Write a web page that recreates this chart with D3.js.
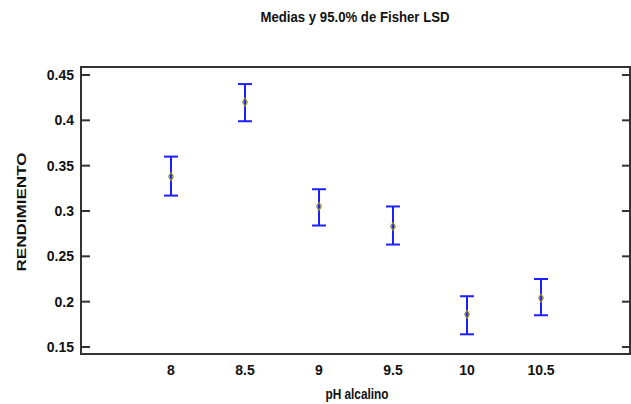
<!DOCTYPE html>
<meta charset="utf-8" />
<title>Medias y 95.0% de Fisher LSD</title>
<style>
  body { margin: 0; background: #fff; }
  text {
    font-family: "Liberation Sans Narrow", "Arial Narrow", "Liberation Sans", sans-serif;
    font-weight: bold;
    fill: #111;
  }
  .frame { fill: none; stroke: #333; stroke-width: 2px; }
  .tick line { stroke: #333; stroke-width: 2px; }
  .bar { stroke: #1e1eff; stroke-width: 2px; fill: none; }
  .mean { stroke: #85852a; stroke-width: 1.2px; fill: none; }
</style>
<body>
  <script src="https://cdnjs.cloudflare.com/ajax/libs/d3/7.8.5/d3.min.js"></script>
  <script>
    // pH levels (x) and the LSD intervals
    var phLevels = [8, 8.5, 9, 9.5, 10, 10.5];
    var means = [0.338, 0.420, 0.305, 0.283, 0.186, 0.204];
    var lower = [0.317, 0.399, 0.284, 0.263, 0.164, 0.185];
    var upper = [0.360, 0.440, 0.324, 0.305, 0.206, 0.225];
    var yTicks = [0.15, 0.2, 0.25, 0.3, 0.35, 0.4, 0.45];
    var yTickLabels = ["0.15", "0.2", "0.25", "0.3", "0.35", "0.4", "0.45"];

    var width = 631,
      height = 404,
      plotLeft = 81,
      plotRight = 630,
      plotTop = 67,
      plotBottom = 354;

    var svg = d3
      .select("body")
      .append("svg")
      .attr("width", width)
      .attr("height", height);

    var x = d3.scaleLinear().domain([8, 10.5]).range([171, 541]);
    var y = d3.scaleLinear().domain([0.15, 0.45]).range([347, 75]);

    // narrow font is not installed, so squeeze the titles to the original widths
    svg
      .append("text")
      .attr("x", 355)
      .attr("y", 22)
      .attr("text-anchor", "middle")
      .attr("textLength", 189)
      .attr("lengthAdjust", "spacingAndGlyphs")
      .style("font-size", "15px")
      .text("Medias y 95.0% de Fisher LSD");

    // plot frame
    svg
      .append("rect")
      .attr("class", "frame")
      .attr("x", plotLeft)
      .attr("y", plotTop)
      .attr("width", plotRight - plotLeft)
      .attr("height", plotBottom - plotTop);

    // y ticks, inside on both sides
    var yt = svg
      .selectAll(".ytick")
      .data(yTicks)
      .enter()
      .append("g")
      .attr("class", "tick")
      .attr("transform", function (d) {
        return "translate(0," + y(d) + ")";
      });
    yt.append("line").attr("x1", plotLeft).attr("x2", plotLeft + 9);
    yt.append("line").attr("x1", plotRight - 8).attr("x2", plotRight);
    yt.append("text")
      .attr("x", plotLeft - 7)
      .attr("dy", "0.35em")
      .attr("text-anchor", "end")
      .style("font-size", "14px")
      .text(function (d, i) {
        return yTickLabels[i];
      });

    // x tick labels (no tick marks in the original)
    svg
      .selectAll(".xlabel")
      .data(phLevels)
      .enter()
      .append("text")
      .attr("x", function (d) {
        return x(d);
      })
      .attr("y", 375)
      .attr("text-anchor", "middle")
      .style("font-size", "14px")
      .text(function (d) {
        return d;
      });

    // axis titles
    svg
      .append("text")
      .attr("x", 357)
      .attr("y", 399)
      .attr("text-anchor", "middle")
      .attr("textLength", 63)
      .attr("lengthAdjust", "spacingAndGlyphs")
      .style("font-size", "14px")
      .text("pH alcalino");

    svg
      .append("text")
      .attr("transform", "translate(26,212) rotate(-90)")
      .attr("text-anchor", "middle")
      .attr("textLength", 119)
      .attr("lengthAdjust", "spacingAndGlyphs")
      .style("font-size", "13px")
      .text("RENDIMIENTO");

    // error bars
    var g = svg
      .selectAll(".err")
      .data(phLevels)
      .enter()
      .append("g")
      .attr("class", "err");

    var cap = 7;
    g.append("line")
      .attr("class", "bar")
      .attr("x1", function (d) { return x(d); })
      .attr("x2", function (d) { return x(d); })
      .attr("y1", function (d, i) { return y(upper[i]); })
      .attr("y2", function (d, i) { return y(lower[i]); });
    g.append("line")
      .attr("class", "bar")
      .attr("x1", function (d) { return x(d) - cap; })
      .attr("x2", function (d) { return x(d) + cap; })
      .attr("y1", function (d, i) { return y(upper[i]); })
      .attr("y2", function (d, i) { return y(upper[i]); });
    g.append("line")
      .attr("class", "bar")
      .attr("x1", function (d) { return x(d) - cap; })
      .attr("x2", function (d) { return x(d) + cap; })
      .attr("y1", function (d, i) { return y(lower[i]); })
      .attr("y2", function (d, i) { return y(lower[i]); });

    // mean markers
    var diamond = d3.symbol().type(d3.symbolDiamond).size(18);
    g.append("path")
      .attr("class", "mean")
      .attr("d", diamond)
      .attr("transform", function (d, i) {
        return "translate(" + x(d) + "," + y(means[i]) + ")";
      });
  </script>
</body>
